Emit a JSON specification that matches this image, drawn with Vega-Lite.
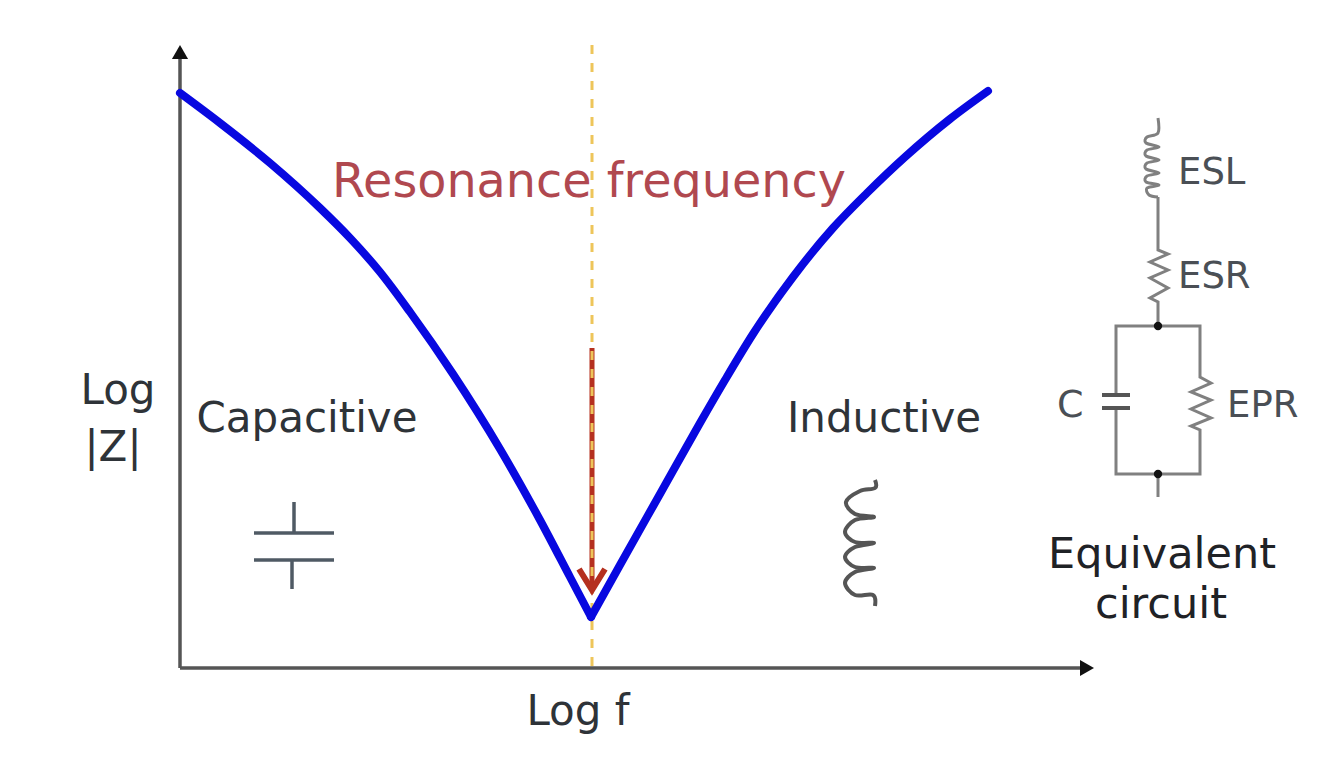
{"$schema":"https://vega.github.io/schema/vega-lite/v6.json","width":1344,"height":768,"padding":0,"autosize":{"type":"fit","contains":"padding"},"background":"white","config":{"view":{"stroke":null}},
"datasets":{
"axes":[{"s":"y","i":0,"x":180,"y":56},{"s":"y","i":1,"x":180,"y":668},{"s":"x","i":0,"x":180,"y":668},{"s":"x","i":1,"x":1082,"y":668}],
"guide":[{"i":0,"x":592,"y":45},{"i":1,"x":592,"y":668}],
"shaft":[{"i":0,"x":592,"y":348},{"i":1,"x":592,"y":588}],
"head":[{"i":0,"x":579,"y":569},{"i":1,"x":592,"y":590},{"i":2,"x":605,"y":569}],
"curve":[{"s":"capacitive","i":0,"x":180,"y":93},{"s":"capacitive","i":1,"x":220,"y":123},{"s":"capacitive","i":2,"x":270,"y":163},{"s":"capacitive","i":3,"x":320,"y":208},{"s":"capacitive","i":4,"x":350,"y":238},{"s":"capacitive","i":5,"x":380,"y":272},{"s":"capacitive","i":6,"x":410,"y":312},{"s":"capacitive","i":7,"x":453,"y":374},{"s":"capacitive","i":8,"x":500,"y":449},{"s":"capacitive","i":9,"x":540,"y":520},{"s":"capacitive","i":10,"x":570,"y":577},{"s":"capacitive","i":11,"x":591,"y":617},{"s":"inductive","i":12,"x":591,"y":617},{"s":"inductive","i":13,"x":620,"y":565},{"s":"inductive","i":14,"x":660,"y":494},{"s":"inductive","i":15,"x":700,"y":423},{"s":"inductive","i":16,"x":725,"y":380},{"s":"inductive","i":17,"x":753,"y":334},{"s":"inductive","i":18,"x":793,"y":277},{"s":"inductive","i":19,"x":833,"y":228},{"s":"inductive","i":20,"x":867,"y":193},{"s":"inductive","i":21,"x":905,"y":157},{"s":"inductive","i":22,"x":950,"y":119},{"s":"inductive","i":23,"x":988,"y":91}],
"capIcon":[{"s":"a","i":0,"x":294,"y":502},{"s":"a","i":1,"x":294,"y":533},{"s":"b","i":0,"x":254,"y":533},{"s":"b","i":1,"x":334,"y":533},{"s":"c","i":0,"x":254,"y":560},{"s":"c","i":1,"x":334,"y":560},{"s":"d","i":0,"x":292,"y":560},{"s":"d","i":1,"x":292,"y":589}],
"coilIcon":[{"i":0,"x":875,"y":480},{"i":1,"x":875,"y":488},{"i":2,"x":860,"y":491},{"i":3,"x":846,"y":502},{"i":4,"x":855,"y":514},{"i":5,"x":874,"y":517},{"i":6,"x":855,"y":520},{"i":7,"x":845,"y":532},{"i":8,"x":855,"y":542},{"i":9,"x":874,"y":543},{"i":10,"x":855,"y":547},{"i":11,"x":845,"y":557},{"i":12,"x":855,"y":567},{"i":13,"x":874,"y":568},{"i":14,"x":855,"y":572},{"i":15,"x":845,"y":583},{"i":16,"x":855,"y":595},{"i":17,"x":873,"y":595},{"i":18,"x":875,"y":606}],
"esl":[{"i":0,"x":1158,"y":118},{"i":1,"x":1158,"y":133},{"i":2,"x":1147,"y":137},{"i":3,"x":1146,"y":143},{"i":4,"x":1159,"y":147},{"i":5,"x":1147,"y":150},{"i":6,"x":1146,"y":156},{"i":7,"x":1159,"y":160},{"i":8,"x":1147,"y":163},{"i":9,"x":1146,"y":169},{"i":10,"x":1159,"y":173},{"i":11,"x":1147,"y":176},{"i":12,"x":1146,"y":182},{"i":13,"x":1159,"y":185},{"i":14,"x":1147,"y":188},{"i":15,"x":1149,"y":195},{"i":16,"x":1158,"y":197}],
"wires":[{"s":"w1","i":0,"x":1158,"y":197},{"s":"w1","i":1,"x":1158,"y":250},{"s":"w1","i":2,"x":1168,"y":254},{"s":"w1","i":3,"x":1150,"y":262},{"s":"w1","i":4,"x":1168,"y":270},{"s":"w1","i":5,"x":1150,"y":278},{"s":"w1","i":6,"x":1168,"y":288},{"s":"w1","i":7,"x":1150,"y":298},{"s":"w1","i":8,"x":1158,"y":302},{"s":"w1","i":9,"x":1158,"y":326},
{"s":"w2","i":0,"x":1116,"y":395},{"s":"w2","i":1,"x":1116,"y":326},{"s":"w2","i":2,"x":1200,"y":326},{"s":"w2","i":3,"x":1200,"y":377},{"s":"w2","i":4,"x":1211,"y":383},{"s":"w2","i":5,"x":1191,"y":392},{"s":"w2","i":6,"x":1211,"y":400},{"s":"w2","i":7,"x":1191,"y":409},{"s":"w2","i":8,"x":1211,"y":418},{"s":"w2","i":9,"x":1191,"y":426},{"s":"w2","i":10,"x":1200,"y":430},{"s":"w2","i":11,"x":1200,"y":474},{"s":"w2","i":12,"x":1116,"y":474},{"s":"w2","i":13,"x":1116,"y":408},
{"s":"w3","i":0,"x":1158,"y":474},{"s":"w3","i":1,"x":1158,"y":497}],
"plates":[{"s":"p1","i":0,"x":1102,"y":395},{"s":"p1","i":1,"x":1130,"y":395},{"s":"p2","i":0,"x":1102,"y":408},{"s":"p2","i":1,"x":1130,"y":408}],
"nodes":[{"x":1158,"y":326},{"x":1158,"y":474}]
},
"encoding":{"x":{"field":"x","type":"quantitative","axis":null,"scale":{"domain":[0,1344],"nice":false,"zero":false}},"y":{"field":"y","type":"quantitative","axis":null,"scale":{"domain":[768,0],"nice":false,"zero":false}},"order":{"field":"i","type":"quantitative"}},
"layer":[
{"data":{"name":"axes"},"mark":{"type":"line","color":"#555555","strokeWidth":3.5},"encoding":{"detail":{"field":"s"}}},
{"data":{"values":[{"x":180,"y":52}]},"mark":{"type":"point","shape":"triangle-up","filled":true,"color":"#111111","size":260,"opacity":1},"encoding":{"order":null}},
{"data":{"values":[{"x":1087,"y":668}]},"mark":{"type":"point","shape":"triangle-right","filled":true,"color":"#111111","size":260,"opacity":1},"encoding":{"order":null}},
{"data":{"name":"shaft"},"mark":{"type":"line","color":"#b5301f","strokeWidth":5}},
{"data":{"name":"guide"},"mark":{"type":"line","color":"#eec55a","strokeWidth":3,"strokeDash":[9,9]}},
{"data":{"name":"head"},"mark":{"type":"line","color":"#b5301f","strokeWidth":6}},
{"data":{"name":"curve"},"mark":{"type":"line","color":"#0808e0","strokeWidth":8,"strokeCap":"round","strokeJoin":"round","interpolate":"monotone"},"encoding":{"detail":{"field":"s"}}},
{"data":{"name":"capIcon"},"mark":{"type":"line","color":"#4f5a64","strokeWidth":3.5},"encoding":{"detail":{"field":"s"}}},
{"data":{"name":"coilIcon"},"mark":{"type":"line","color":"#555555","strokeWidth":4,"interpolate":"cardinal"}},
{"data":{"name":"esl"},"mark":{"type":"line","color":"#808080","strokeWidth":3,"interpolate":"cardinal"}},
{"data":{"name":"wires"},"mark":{"type":"line","color":"#808080","strokeWidth":3},"encoding":{"detail":{"field":"s"}}},
{"data":{"name":"plates"},"mark":{"type":"line","color":"#555555","strokeWidth":4},"encoding":{"detail":{"field":"s"}}},
{"data":{"name":"nodes"},"mark":{"type":"point","filled":true,"color":"#111111","size":70,"opacity":1},"encoding":{"order":null}},
{"data":{"values":[{"x":589,"y":183,"t":"Resonance frequency"}]},"mark":{"type":"text","font":"DejaVu Sans","fontSize":47.7,"color":"#b0484f","align":"center","baseline":"middle"},"encoding":{"text":{"field":"t"},"order":null}},
{"data":{"values":[{"x":118,"y":391,"t":"Log"},{"x":113,"y":448,"t":"|Z|"},{"x":307,"y":419,"t":"Capacitive"},{"x":884,"y":419,"t":"Inductive"},{"x":578,"y":712,"t":"Log f"}]},"mark":{"type":"text","font":"DejaVu Sans","fontSize":42,"color":"#2e3338","align":"center","baseline":"middle"},"encoding":{"text":{"field":"t"},"order":null}},
{"data":{"values":[{"x":1162,"y":555,"t":"Equivalent"},{"x":1161,"y":605,"t":"circuit"}]},"mark":{"type":"text","font":"DejaVu Sans","fontSize":43,"color":"#1f2226","align":"center","baseline":"middle"},"encoding":{"text":{"field":"t"},"order":null}},
{"data":{"values":[{"x":1178,"y":173,"t":"ESL"},{"x":1178,"y":277,"t":"ESR"},{"x":1227,"y":406,"t":"EPR"}]},"mark":{"type":"text","font":"DejaVu Sans","fontSize":37,"color":"#4a4f55","align":"left","baseline":"middle"},"encoding":{"text":{"field":"t"},"order":null}},
{"data":{"values":[{"x":1057,"y":406,"t":"C"}]},"mark":{"type":"text","font":"DejaVu Sans","fontSize":38,"color":"#4a4f55","align":"left","baseline":"middle"},"encoding":{"text":{"field":"t"},"order":null}}
]}
